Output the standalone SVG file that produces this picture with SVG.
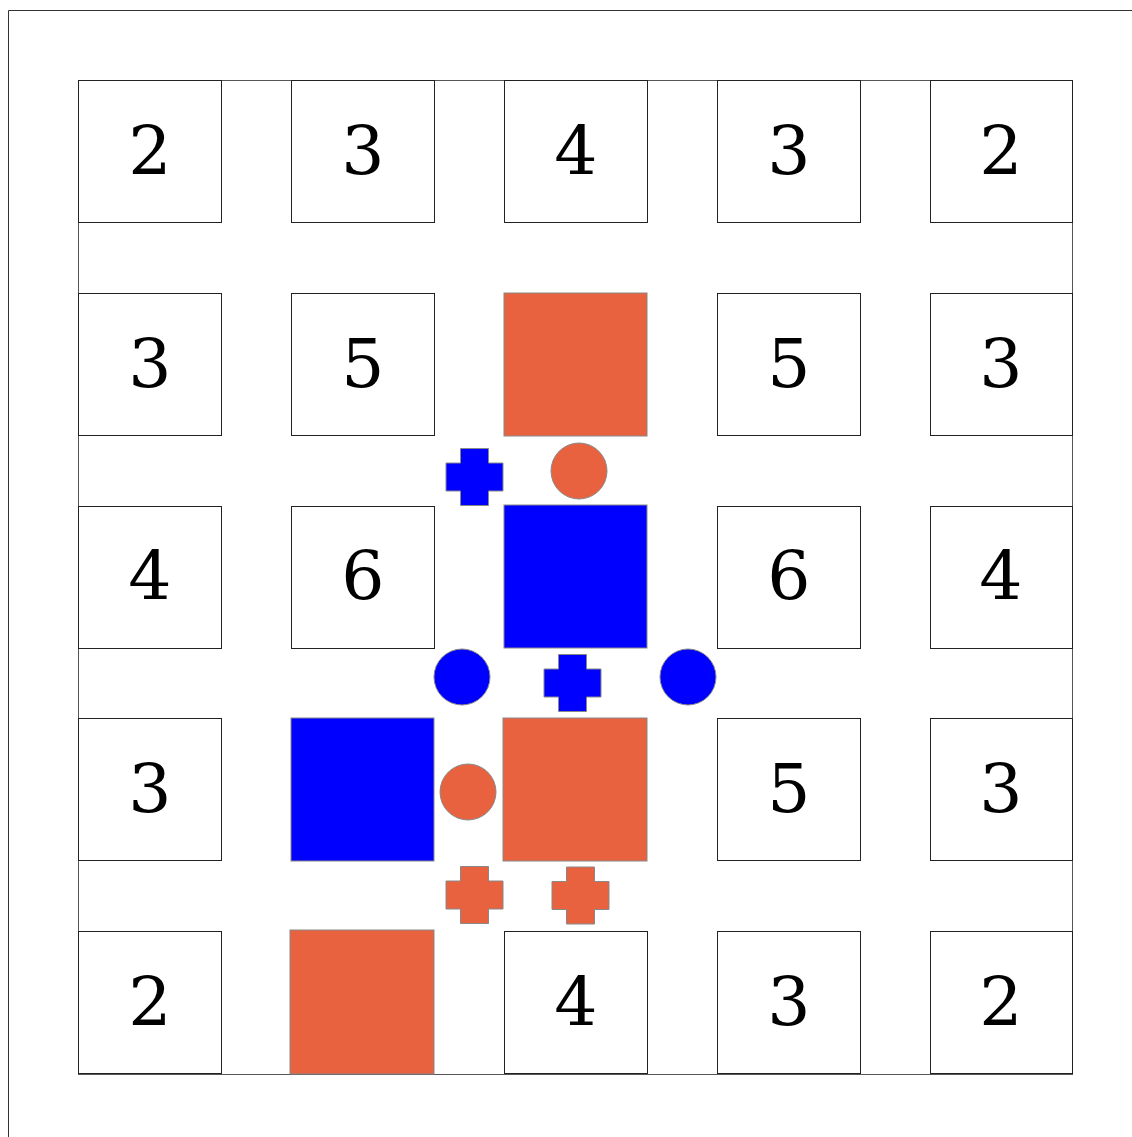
<svg xmlns="http://www.w3.org/2000/svg" width="1132" height="1137" viewBox="0 0 1132 1137">
<style>
.frame{stroke:#333;stroke-width:1;fill:none}
.board{stroke:#555;stroke-width:1;fill:none}
.cell{fill:#fff;stroke:#222;stroke-width:1}
.or{fill:#E9623F;stroke:#888;stroke-width:1}
.bl{fill:#0000FF;stroke:#888;stroke-width:1}
.num{font-family:"DejaVu Serif","Liberation Serif",serif;font-size:68px;font-weight:300;fill:#000;text-anchor:middle}
</style>
<defs>
<path id="plus" d="M-14,-28.5 H14 V-14 H28.5 V14 H14 V28.5 H-14 V14 H-28.5 V-14 H-14 Z"/>
</defs>
<rect width="1132" height="1137" fill="#fff"/>
<g id="frame">
<line class="frame" x1="8.5" y1="10.5" x2="1132" y2="10.5"/>
<line class="frame" x1="8.5" y1="10.5" x2="8.5" y2="1137"/>
</g>
<rect id="board" class="board" x="78.5" y="80.5" width="994" height="994"/>
<g id="cells">
<g id="c00"><rect class="cell" x="78.5" y="80.5" width="143" height="142"/><text class="num" x="150" y="174">2</text></g>
<g id="c01"><rect class="cell" x="291.5" y="80.5" width="143" height="142"/><text class="num" x="363" y="174">3</text></g>
<g id="c02"><rect class="cell" x="504.5" y="80.5" width="143" height="142"/><text class="num" x="576" y="174">4</text></g>
<g id="c03"><rect class="cell" x="717.5" y="80.5" width="143" height="142"/><text class="num" x="789" y="174">3</text></g>
<g id="c04"><rect class="cell" x="930.5" y="80.5" width="142" height="142"/><text class="num" x="1001" y="174">2</text></g>

<g id="c10"><rect class="cell" x="78.5" y="293.5" width="143" height="142"/><text class="num" x="150" y="387">3</text></g>
<g id="c11"><rect class="cell" x="291.5" y="293.5" width="143" height="142"/><text class="num" x="363" y="387">5</text></g>
<g id="c12"><rect class="or" x="504" y="293" width="143" height="143"/></g>
<g id="c13"><rect class="cell" x="717.5" y="293.5" width="143" height="142"/><text class="num" x="789" y="387">5</text></g>
<g id="c14"><rect class="cell" x="930.5" y="293.5" width="142" height="142"/><text class="num" x="1001" y="387">3</text></g>

<g id="c20"><rect class="cell" x="78.5" y="506.5" width="143" height="142"/><text class="num" x="150" y="599">4</text></g>
<g id="c21"><rect class="cell" x="291.5" y="506.5" width="143" height="142"/><text class="num" x="363" y="599">6</text></g>
<g id="c22"><rect class="bl" x="504" y="505" width="143" height="143"/></g>
<g id="c23"><rect class="cell" x="717.5" y="506.5" width="143" height="142"/><text class="num" x="789" y="599">6</text></g>
<g id="c24"><rect class="cell" x="930.5" y="506.5" width="142" height="142"/><text class="num" x="1001" y="599">4</text></g>

<g id="c30"><rect class="cell" x="78.5" y="718.5" width="143" height="142"/><text class="num" x="150" y="812">3</text></g>
<g id="c31"><rect class="bl" x="291" y="718" width="143" height="143"/></g>
<g id="c32"><rect class="or" x="503" y="718" width="144" height="143"/></g>
<g id="c33"><rect class="cell" x="717.5" y="718.5" width="143" height="142"/><text class="num" x="789" y="812">5</text></g>
<g id="c34"><rect class="cell" x="930.5" y="718.5" width="142" height="142"/><text class="num" x="1001" y="812">3</text></g>

<g id="c40"><rect class="cell" x="78.5" y="931.5" width="143" height="142"/><text class="num" x="150" y="1025">2</text></g>
<g id="c41"><rect class="or" x="290" y="930" width="144" height="144"/></g>
<g id="c42"><rect class="cell" x="504.5" y="931.5" width="143" height="142"/><text class="num" x="576" y="1025">4</text></g>
<g id="c43"><rect class="cell" x="717.5" y="931.5" width="143" height="142"/><text class="num" x="789" y="1025">3</text></g>
<g id="c44"><rect class="cell" x="930.5" y="931.5" width="142" height="142"/><text class="num" x="1001" y="1025">2</text></g>
</g>
<g id="pieces">
<g id="p1"><use href="#plus" class="bl" transform="translate(474.5,477)"/></g>
<g id="p2"><circle class="or" cx="579" cy="471" r="28"/></g>
<g id="p3"><circle class="bl" cx="462" cy="677" r="28"/></g>
<g id="p4"><use href="#plus" class="bl" transform="translate(572.5,683)"/></g>
<g id="p5"><circle class="bl" cx="688" cy="677" r="28"/></g>
<g id="p6"><circle class="or" cx="468" cy="792" r="28"/></g>
<g id="p7"><use href="#plus" class="or" transform="translate(474.5,895)"/></g>
<g id="p8"><use href="#plus" class="or" transform="translate(580.5,895.5)"/></g>
</g>
</svg>
